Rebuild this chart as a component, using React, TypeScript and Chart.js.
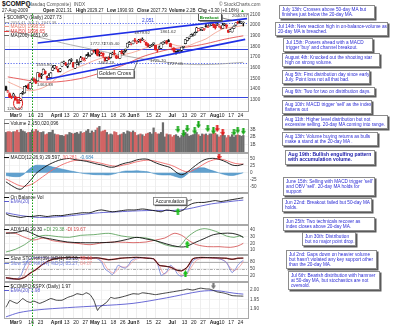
import React, { useEffect, useRef } from "react";
import { Chart, registerables } from "chart.js";

Chart.register(...registerables);

const FONT = '"Liberation Sans", Arial, Helvetica, sans-serif';
Chart.defaults.font.family = FONT;

// ---------------- trading days ----------------
const monthDays: [string, number[]][] = [
  ["02", [26, 27]],
  ["03", [2, 3, 4, 5, 6, 9, 10, 11, 12, 13, 16, 17, 18, 19, 20, 23, 24, 25, 26, 27, 30, 31]],
  ["04", [1, 2, 3, 6, 7, 8, 9, 13, 14, 15, 16, 17, 20, 21, 22, 23, 24, 27, 28, 29, 30]],
  ["05", [1, 4, 5, 6, 7, 8, 11, 12, 13, 14, 15, 18, 19, 20, 21, 22, 26, 27, 28, 29]],
  ["06", [1, 2, 3, 4, 5, 8, 9, 10, 11, 12, 15, 16, 17, 18, 19, 22, 23, 24, 25, 26, 29, 30]],
  ["07", [1, 2, 6, 7, 8, 9, 10, 13, 14, 15, 16, 17, 20, 21, 22, 23, 24, 27, 28, 29, 30, 31]],
  ["08", [3, 4, 5, 6, 7, 10, 11, 12, 13, 14, 17, 18, 19, 20, 21, 24, 25, 26, 27]],
];
const dates: string[] = monthDays.flatMap(([m, ds]) => ds.map((d) => `2009-${m}-${String(d).padStart(2, "0")}`));
const slots: string[] = [...dates, "", " "];
const N = slots.length;

const xTickLabels: [string, string][] = [
  ["2009-03-02", "Mar"], ["2009-03-09", "9"], ["2009-03-16", "16"], ["2009-03-23", "23"],
  ["2009-04-01", "April"], ["2009-04-13", "13"], ["2009-04-20", "20"], ["2009-04-27", "27"],
  ["2009-05-01", "May"], ["2009-05-11", "11"], ["2009-05-18", "18"], ["2009-05-26", "26"],
  ["2009-06-01", "Jun"], ["2009-06-08", "8"], ["2009-06-15", "15"], ["2009-06-22", "22"],
  ["2009-07-01", "Jul"], ["2009-07-13", "13"], ["2009-07-20", "20"], ["2009-07-27", "27"],
  ["2009-08-03", "Aug"], ["2009-08-10", "10"], ["2009-08-17", "17"], ["2009-08-24", "24"],
];
const markerDate = "2009-03-18";

// ---------------- price (OHLC) ----------------
const opens = [1425, 1371,
  1358, 1330, 1336, 1332, 1300, 1280, 1296, 1362, 1366, 1428, 1440, 1404, 1456, 1494, 1488, 1479, 1543, 1524, 1540, 1569, 1520, 1510,
  1509, 1575, 1599, 1604, 1585, 1567, 1615, 1645, 1640, 1614, 1637, 1670, 1648, 1596, 1636, 1651, 1660, 1676, 1667, 1690, 1725,
  1719, 1731, 1759, 1768, 1771, 1733, 1718, 1738, 1700, 1670, 1684, 1695, 1728, 1738, 1711, 1699, 1690, 1753, 1740, 1761,
  1794, 1820, 1823, 1825, 1862, 1837, 1849, 1869, 1858, 1852, 1838, 1821, 1795, 1808, 1825, 1810, 1768, 1779, 1783, 1822, 1843, 1847,
  1851, 1826, 1787, 1784, 1749, 1756, 1743, 1763, 1792, 1826, 1854, 1875, 1896, 1916, 1907, 1934, 1947, 1965, 1955, 1957, 1990, 1978,
  1992, 2001, 2010, 2002, 1997, 1992, 1981, 1968, 2004, 2002, 1950, 1938, 1935, 1968, 1999, 2024, 2027, 2021, 2021];
const highs = [1428, 1390,
  1365, 1337, 1363, 1336, 1309, 1306, 1359, 1381, 1427, 1436, 1450, 1463, 1500, 1506, 1495, 1556, 1552, 1547, 1589, 1572, 1522, 1546,
  1556, 1619, 1622, 1612, 1590, 1596, 1653, 1663, 1650, 1628, 1678, 1686, 1650, 1646, 1676, 1656, 1707, 1697, 1693, 1724, 1742,
  1727, 1764, 1765, 1768, 1775, 1751, 1745, 1739, 1701, 1697, 1703, 1733, 1747, 1763, 1717, 1709, 1754, 1765, 1757, 1775,
  1831, 1846, 1831, 1851, 1876, 1849, 1866, 1870, 1880, 1860, 1841, 1829, 1812, 1819, 1832, 1812, 1772, 1804, 1834, 1843, 1852, 1856,
  1865, 1830, 1791, 1786, 1754, 1760, 1762, 1793, 1801, 1863, 1886, 1888, 1912, 1919, 1933, 1979, 1967, 1972, 1977, 1969, 2006, 1995,
  2009, 2011, 2012, 2002, 2015, 2003, 1987, 2016, 2016, 2003, 1955, 1961, 1974, 1993, 2021, 2035, 2041, 2031, 2029];
const lows = [1388, 1370,
  1321, 1312, 1334, 1297, 1268, 1266, 1293, 1352, 1363, 1413, 1400, 1400, 1450, 1478, 1451, 1476, 1513, 1499, 1539, 1540, 1487, 1507,
  1500, 1573, 1591, 1587, 1560, 1561, 1612, 1638, 1620, 1600, 1635, 1656, 1604, 1592, 1630, 1625, 1655, 1672, 1663, 1688, 1707,
  1707, 1725, 1744, 1730, 1711, 1708, 1711, 1696, 1662, 1668, 1677, 1690, 1725, 1720, 1685, 1687, 1688, 1731, 1725, 1747,
  1792, 1819, 1814, 1824, 1841, 1826, 1839, 1834, 1855, 1843, 1808, 1795, 1788, 1801, 1811, 1765, 1747, 1775, 1778, 1821, 1831, 1822,
  1843, 1796, 1765, 1745, 1727, 1744, 1740, 1750, 1784, 1824, 1852, 1871, 1893, 1895, 1905, 1928, 1944, 1950, 1948, 1950, 1980, 1976,
  1990, 1995, 1976, 1962, 1993, 1981, 1963, 1967, 1994, 1969, 1930, 1937, 1934, 1966, 1997, 2011, 2016, 2013, 1991];
const closes = [1391, 1378,
  1323, 1321, 1354, 1300, 1294, 1269, 1358, 1372, 1426, 1432, 1404, 1462, 1491, 1483, 1457, 1556, 1517, 1529, 1587, 1545, 1502, 1529,
  1552, 1603, 1622, 1607, 1562, 1591, 1653, 1653, 1626, 1627, 1670, 1673, 1608, 1644, 1646, 1652, 1694, 1680, 1674, 1712, 1717,
  1719, 1764, 1754, 1759, 1716, 1739, 1731, 1716, 1664, 1689, 1680, 1732, 1735, 1728, 1695, 1692, 1750, 1731, 1752, 1774,
  1829, 1837, 1826, 1850, 1849, 1842, 1860, 1853, 1862, 1859, 1816, 1796, 1808, 1808, 1827, 1766, 1765, 1792, 1830, 1838, 1844, 1835,
  1846, 1797, 1787, 1746, 1747, 1753, 1756, 1793, 1800, 1863, 1885, 1887, 1909, 1916, 1926, 1974, 1966, 1968, 1976, 1968, 1984, 1979,
  2009, 2011, 1993, 1973, 2000, 1992, 1970, 1999, 2008, 1986, 1931, 1956, 1969, 1989, 2021, 2018, 2024, 2024, 2028];

// volume, billions of shares
const volumesB = [2.6, 2.7,
  2.7, 2.6, 2.7, 2.7, 2.9, 2.6, 3.0, 2.8, 2.7, 2.5, 2.6, 2.6, 2.9, 2.7, 3.0, 2.8, 2.6, 2.6, 2.7, 2.3, 2.4, 2.6,
  2.6, 2.9, 2.4, 2.3, 2.3, 2.2, 2.2, 2.1, 2.3, 2.3, 2.6, 2.5, 2.4, 2.5, 2.6, 2.4, 2.7, 2.5, 2.6, 2.8, 3.0,
  2.5, 2.8, 2.6, 2.9, 3.2, 3.4, 2.7, 2.8, 2.9, 2.6, 2.3, 2.4, 2.3, 2.7, 2.6, 2.2, 2.3, 2.4, 2.6, 2.4,
  2.8, 2.7, 2.6, 2.8, 2.6, 2.2, 2.3, 2.4, 2.3, 2.1, 2.4, 2.5, 2.6, 2.4, 3.2, 2.6, 2.4, 2.4, 2.6, 3.9, 2.0, 2.4,
  2.3, 2.3, 2.0, 2.2, 2.3, 2.1, 1.9, 2.2, 2.1, 2.6, 2.4, 2.1, 2.2, 2.3, 2.4, 2.6, 2.3, 2.1, 2.4, 2.3, 2.4, 2.2,
  2.4, 2.4, 2.7, 2.5, 2.3, 2.0, 2.2, 2.3, 2.2, 1.9, 2.2, 2.0, 2.3, 2.0, 2.2, 2.3, 2.2, 2.1, 2.2];

// moving averages: [slot, value]
const ma20Pts: [number, number][] = [[1, 1470], [7, 1422], [12, 1386], [17, 1397], [22, 1433], [27, 1502], [32, 1556], [37, 1595], [42, 1628], [47, 1666], [52, 1695], [57, 1709], [62, 1721], [67, 1739], [72, 1768], [77, 1800], [82, 1819], [87, 1827], [92, 1806], [97, 1804], [102, 1837], [107, 1870], [112, 1927], [117, 1970], [122, 1981], [127, 1996]];
const ma50Pts: [number, number][] = [[1, 1515], [7, 1497], [12, 1482], [17, 1470], [22, 1466], [27, 1468], [32, 1477], [37, 1490], [42, 1508], [47, 1532], [52, 1560], [57, 1590], [62, 1620], [67, 1657], [72, 1697], [77, 1726], [82, 1750], [87, 1771], [92, 1784], [97, 1795], [102, 1808], [107, 1825], [112, 1846], [117, 1867], [122, 1884], [127, 1899]];
const ma200Pts: [number, number][] = [[0, 1950], [12, 1908], [22, 1868], [32, 1825], [42, 1788], [52, 1752], [62, 1718], [72, 1686], [82, 1660], [92, 1640], [102, 1630], [112, 1633], [122, 1645], [127, 1651]];
const channelUpper: [number, number][] = [[17, 1832], [129, 2060]];
const channelLower: [number, number][] = [[22, 1493], [128, 1866]];
const priceLevels = [2017, 1776, 1645, 1324];
const priceLevelDotted = [true, false, true, false];
const priceLabels: [number, number, string][] = [
  [4.8, 1220, "1265.52"], [20.9, 1444, "1464.38"], [20.4, 1631, "1555.80"], [49.2, 1827, "1772.72"],
  [56.5, 1827, "1745.40"], [53.6, 1648, "1664.19"], [72.8, 1935, "1879.92"], [86.7, 1944, "1861.62"],
  [81.3, 1673, "1725.70"], [90.5, 1640, "1727.05"], [125.2, 2093, "2040.57"],
];

// MACD(12,26,9)
const macdPts: [number, number][] = [[0, -32], [3, -45], [6, -56], [8, -58], [10, -48], [12, -35], [14, -20], [16, -3], [19, 12], [22, 25], [25, 35], [28, 43], [31, 48], [34, 50], [37, 46], [40, 43], [43, 40], [46, 35], [49, 30], [52, 26], [55, 20], [58, 20], [61, 28], [64, 34], [67, 38], [70, 45], [73, 48], [76, 47], [79, 38], [82, 30], [85, 24], [88, 18], [91, 2], [94, -7], [97, 2], [100, 18], [103, 33], [106, 45], [109, 50], [112, 50], [115, 45], [118, 37], [121, 27], [124, 25], [127, 30]];
const signalPts: [number, number][] = [[0, -22], [3, -32], [6, -42], [9, -48], [12, -45], [15, -36], [18, -22], [21, -8], [24, 6], [27, 18], [30, 28], [33, 36], [36, 42], [39, 44], [42, 44], [45, 41], [48, 37], [51, 33], [54, 28], [57, 24], [60, 23], [63, 27], [66, 31], [69, 37], [72, 41], [75, 44], [78, 43], [81, 39], [84, 34], [87, 29], [90, 22], [93, 12], [96, 4], [99, 5], [102, 15], [105, 27], [108, 38], [111, 45], [114, 48], [117, 45], [120, 38], [123, 32], [127, 30]];
const histPts: [number, number][] = [[0, -10], [3, -13], [6, -14], [8, -12], [10, -3], [12, 10], [14, 20], [16, 26], [19, 26], [22, 25], [25, 20], [28, 16], [31, 11], [34, 7], [37, 3], [40, -1], [43, -4], [46, -6], [49, -7], [52, -7], [55, -8], [58, -4], [61, 2], [64, 6], [67, 6], [70, 7], [73, 5], [76, 3], [79, -3], [82, -7], [85, -8], [88, -8], [91, -14], [94, -18], [97, -5], [100, 12], [103, 17], [106, 17], [109, 10], [112, 4], [115, -3], [118, -8], [121, -10], [124, -6], [127, 0]];

// On balance volume (billions, relative) and its EMA(20)
const obvPts: [number, number][] = [[0, -1], [2, -3], [5, -4], [8, -5], [11, -4], [14, -4], [18, -3], [22, -4], [26, -3], [30, -3], [33, -2], [37, -1], [41, 0], [45, 0], [48, 2], [51, 3], [54, 2], [57, 1], [61, 2], [65, 3], [69, 3], [73, 4], [77, 3], [80, 2], [83, 1], [86, 3], [89, 2], [92, 1], [95, 3], [97, 7], [100, 10], [103, 11], [106, 11], [109, 12], [112, 13], [115, 12], [118, 13], [121, 14], [124, 15], [127, 16]];
const obvEmaPts: [number, number][] = [[0, 0], [8, -3], [18, -5], [30, -4], [40, -2], [50, 0], [60, 1], [70, 2], [80, 2.5], [90, 2.5], [97, 4], [104, 7], [110, 9.5], [116, 11], [122, 12.5], [127, 13.5]];

// ADX(14)
const adxPts: [number, number][] = [[0, 35], [5, 36], [10, 39], [14, 35], [18, 30], [25, 26], [33, 22], [40, 21], [50, 21], [58, 22], [65, 26], [70, 29], [76, 26], [80, 24], [86, 19], [92, 15], [96, 15], [101, 21], [106, 27], [111, 33], [116, 35], [121, 35], [125, 32], [127, 29]];
const plusDiPts: [number, number][] = [[0, 7], [5, 11], [10, 18], [12, 22], [16, 29], [21, 32], [28, 30], [34, 29], [40, 32], [47, 33], [55, 35], [62, 31], [68, 29], [75, 28], [80, 24], [85, 18], [90, 15], [93, 16], [97, 29], [102, 39], [106, 42], [110, 40], [114, 36], [118, 31], [122, 29], [125, 31], [127, 29]];
const minusDiPts: [number, number][] = [[0, 36], [5, 35], [10, 29], [15, 25], [20, 28], [25, 24], [30, 22], [38, 20], [45, 18], [52, 21], [60, 22], [68, 21], [75, 22], [80, 25], [85, 28], [90, 35], [94, 32], [98, 24], [102, 18], [108, 15], [114, 15], [120, 14], [124, 16], [127, 20]];

// Slow stochastics
const sto39Pts: [number, number][] = [[0, 10], [4, 6], [7, 4], [10, 12], [13, 30], [16, 45], [19, 64], [22, 80], [26, 92], [30, 96], [35, 98], [40, 97], [45, 95], [49, 96], [52, 92], [55, 88], [58, 90], [61, 94], [64, 96], [67, 97], [70, 98], [73, 97], [76, 94], [79, 92], [82, 64], [85, 60], [88, 56], [91, 44], [94, 40], [97, 56], [100, 92], [103, 97], [108, 97], [113, 96], [118, 94], [121, 90], [124, 94], [127, 95]];
const sto14KPts: [number, number][] = [[0, 8], [3, 4], [6, 4], [8, 20], [10, 60], [12, 88], [14, 95], [18, 97], [24, 95], [30, 97], [36, 94], [42, 96], [48, 95], [51, 80], [53, 48], [55, 36], [57, 24], [59, 50], [60, 64], [62, 56], [64, 52], [66, 70], [67, 84], [70, 96], [76, 95], [79, 90], [81, 72], [83, 20], [84, 24], [86, 36], [88, 64], [90, 50], [92, 24], [94, 16], [96, 28], [97, 32], [99, 70], [100, 84], [103, 96], [108, 97], [112, 94], [115, 90], [118, 76], [120, 45], [121, 32], [123, 50], [124, 64], [126, 80], [127, 85]];
const sto14DPts: [number, number][] = [[0, 12], [3, 6], [6, 4], [9, 14], [11, 45], [13, 78], [15, 92], [19, 96], [25, 95], [31, 96], [37, 95], [43, 95], [49, 94], [52, 78], [54, 52], [56, 36], [58, 30], [60, 48], [61, 58], [63, 56], [65, 58], [67, 72], [69, 88], [72, 95], [78, 94], [80, 86], [82, 64], [84, 30], [85, 26], [87, 40], [89, 56], [91, 48], [93, 28], [95, 20], [97, 26], [98, 40], [100, 66], [102, 86], [105, 95], [110, 96], [114, 92], [117, 84], [119, 64], [121, 45], [122, 40], [124, 50], [126, 68], [127, 82]];

// $COMPQ:$SPX ratio and EMA(20)
const ratioPts: [number, number][] = [[0, 1.907], [1, 1.925], [2, 1.944], [4, 1.935], [6, 1.928], [8, 1.945], [9, 1.954], [11, 1.94], [13, 1.933], [15, 1.94], [18, 1.928], [21, 1.94], [24, 1.954], [27, 1.945], [30, 1.945], [33, 1.96], [36, 1.97], [38, 1.98], [41, 1.975], [43, 1.985], [45, 1.975], [47, 1.945], [49, 1.89], [50, 1.905], [52, 1.92], [54, 1.935], [56, 1.96], [58, 1.955], [61, 1.96], [64, 1.968], [68, 1.98], [71, 1.978], [73, 1.985], [77, 1.98], [80, 1.975], [83, 1.98], [86, 1.985], [89, 1.99], [92, 1.995], [95, 2.0], [97, 2.005], [100, 2.0], [104, 2.01], [107, 2.006], [109, 2.005], [111, 1.998], [113, 1.99], [116, 1.985], [118, 1.98], [121, 1.97], [124, 1.968], [127, 1.967]];
const ratioEmaPts: [number, number][] = [[0, 1.855], [7, 1.878], [17, 1.893], [33, 1.905], [50, 1.915], [68, 1.928], [86, 1.958], [104, 1.993], [113, 1.996], [122, 1.983], [127, 1.978]];

// signal arrows [slot, value]
const volArrowsGreen: [number, number][] = [[92, 3.0], [95, 2.45], [97, 3.1], [101, 2.8], [103, 3.6], [108, 3.1], [111, 2.8], [122, 2.6], [124, 2.9], [127, 2.75]];
const volArrowsRed: [number, number][] = [[113, 3.1], [116, 2.6]];
const macdArrowRed: [number, number][] = [[114, 57]];
const obvArrowGreen: [number, number][] = [[92, 1.5]];
const adxArrowGreen: [number, number][] = [[97, 19]];
const stoArrowGreen: [number, number][] = [[96, 28]];
const ratioArrowGray: [number, number][] = [[111, 2.023]];

// y-axis tick values
const priceTicks = [1300, 1400, 1500, 1600, 1700, 1800, 1900, 2000, 2100];
const volumeTicks = [1, 2, 3];
const macdTicks = [-50, -25, 0, 25, 50];
const adxTicks = [10, 20, 30, 40];
const stoTicks = [20, 50, 80];
const ratioTicks = [1.9, 1.95, 2.0];

// right-hand commentary
const notes = [
  { x: 279, y: 5, w: 96, text: "July 13th: Crosses above 50-day MA but\nfinishes just below the 20-day MA." },
  { x: 275, y: 22, w: 113, text: "Jul 14th: New reaction high in on-balance-volume as\n20-day MA is breached." },
  { x: 283, y: 38, w: 90, text: "Jul 15th: Powers ahead with a MACD\ntrigger 'buy' and channel breakout." },
  { x: 282, y: 53, w: 98, text: "August 4th: Knocked out the shooting star\nhigh on strong volume." },
  { x: 282, y: 70, w: 88, text: "Aug 5th: First distribution day since early\nJuly. Point loss not all that bad." },
  { x: 282, y: 87, w: 93, text: "Aug 6th: Two for two on distribution days." },
  { x: 282, y: 100, w: 90, text: "Aug 10th: MACD trigger 'sell' as the index\nflattens out" },
  { x: 282, y: 115, w: 106, text: "Aug 11th: Higher level distribution but not\nexcessive selling. 20-day MA coming into range." },
  { x: 282, y: 132, w: 96, text: "Aug 13th: Volume buying returns as bulls\nmake a stand at the 20-day MA ." },
  { x: 285, y: 150, w: 90, text: "Aug 19th: Bullish engulfing pattern\nwith accumulation volume.", bold: true },
  { x: 283, y: 177, w: 92, text: "June 15th: Selling with MACD trigger 'sell'\nand OBV 'sell'. 20-day MA holds for\nsupport" },
  { x: 282, y: 198, w: 90, text: "Jun 22nd: Breakout failed but 50-day MA\nholds." },
  { x: 283, y: 217, w: 92, text: "Jun 25th: Two technicals recover as\nindex closes above 20-day MA." },
  { x: 302, y: 232, w: 54, text: "Jun 30th: Distribution\nbut no major point drop." },
  { x: 286, y: 250, w: 91, text: "Jul 2nd: Gaps down on heavier volume\nbut hasn't violated any key support other\nthan the 20-day MA." },
  { x: 288, y: 271, w: 92, text: "Jul 6th: Bearish distribution with hammer\nat 50-day MA, but stochastics are not\noversold." },
];

// ---------------- helpers ----------------
const PAD = 4;
const tickMap = new Map(xTickLabels);
const tickText = slots.map((d) => tickMap.get(d) || "");
const markerSlot = slots.indexOf(markerDate);

function sparse(pts: [number, number][]) {
  const a: (number | null)[] = new Array(N).fill(null);
  for (const [i, v] of pts) a[i] = v;
  return a;
}

function lineDs(pts: [number, number][], color: string, width = 0.8, order = 1, tension = 0.3) {
  return { type: "line", data: sparse(pts), borderColor: color, borderWidth: width, pointRadius: 0, spanGaps: true, tension, fill: false, order };
}

function arrowDs(pts: [number, number][], img: HTMLCanvasElement) {
  return { type: "line", data: sparse(pts), showLine: false, pointStyle: img, pointRadius: 3, order: 0 };
}

function arrowImage(color: string, up: boolean) {
  const c = document.createElement("canvas");
  c.width = 5;
  c.height = 7;
  const g = c.getContext("2d")!;
  g.fillStyle = color;
  g.beginPath();
  const shape = [[1.4, 0], [3.6, 0], [3.6, 3.2], [5, 3.2], [2.5, 7], [0, 3.2], [1.4, 3.2]];
  shape.forEach(([x, y], k) => {
    const yy = up ? 7 - y : y;
    if (k === 0) g.moveTo(x, yy);
    else g.lineTo(x, yy);
  });
  g.closePath();
  g.fill();
  return c;
}

type TextItem = { i: number; v: number; text: string; color?: string; bold?: boolean; size?: number; box?: boolean; boxColor?: string };
type Overlay = {
  hlines?: { v: number; color: string; dash?: number[]; w?: number }[];
  texts?: TextItem[];
  segs?: { i1: number; v1: number; i2: number; v2: number; color: string; w?: number }[];
  ellipses?: { i: number; v: number; rx: number; ry: number; color: string }[];
};

function makeOverlay(cfg: Overlay, xLab: boolean) {
  return {
    id: "overlay",
    beforeDatasetsDraw(chart: any) {
      const { ctx, chartArea: a, scales } = chart;
      ctx.save();
      for (const h of cfg.hlines || []) {
        const py = Math.round(scales.y.getPixelForValue(h.v)) + 0.5;
        ctx.strokeStyle = h.color;
        ctx.lineWidth = h.w ?? 1;
        ctx.setLineDash(h.dash || []);
        ctx.beginPath();
        ctx.moveTo(a.left, py);
        ctx.lineTo(a.right, py);
        ctx.stroke();
      }
      ctx.restore();
    },
    afterDatasetsDraw(chart: any) {
      const { ctx, scales } = chart;
      const xs = scales.x;
      const ys = scales.y;
      ctx.save();
      for (const s of cfg.segs || []) {
        ctx.strokeStyle = s.color;
        ctx.lineWidth = s.w ?? 0.7;
        ctx.beginPath();
        ctx.moveTo(xs.getPixelForValue(s.i1), ys.getPixelForValue(s.v1));
        ctx.lineTo(xs.getPixelForValue(s.i2), ys.getPixelForValue(s.v2));
        ctx.stroke();
      }
      for (const e of cfg.ellipses || []) {
        ctx.strokeStyle = e.color;
        ctx.lineWidth = 1;
        ctx.beginPath();
        ctx.ellipse(xs.getPixelForValue(e.i), ys.getPixelForValue(e.v), e.rx, e.ry, 0, 0, Math.PI * 2);
        ctx.stroke();
      }
      for (const t of cfg.texts || []) {
        const size = t.size ?? 4.6;
        ctx.font = `${t.bold ? "bold " : ""}${size}px ${FONT}`;
        const w = ctx.measureText(t.text).width;
        const px = xs.getPixelForValue(t.i);
        const py = ys.getPixelForValue(t.v);
        if (t.box) {
          const bw = w + 4;
          const bh = size + 2.6;
          const bx = Math.round(px - bw / 2) + 0.5;
          const by = Math.round(py - bh / 2) + 0.5;
          ctx.fillStyle = "#555";
          ctx.fillRect(bx + 1.2, by + 1.2, bw, bh);
          ctx.fillStyle = "#fff";
          ctx.fillRect(bx, by, bw, bh);
          ctx.strokeStyle = t.boxColor || "#777";
          ctx.lineWidth = 0.8;
          ctx.strokeRect(bx, by, bw, bh);
        }
        ctx.fillStyle = t.color || "#333";
        ctx.textAlign = "center";
        ctx.textBaseline = "middle";
        ctx.fillText(t.text, px, py + 0.4);
      }
      ctx.restore();
    },
    afterDraw(chart: any) {
      const { ctx, chartArea: a, scales } = chart;
      ctx.save();
      ctx.strokeStyle = "#a8a8a8";
      ctx.lineWidth = 1;
      ctx.strokeRect(Math.round(a.left) - 0.5, Math.round(a.top) - 0.5, Math.round(a.right - a.left) + 1, Math.round(a.bottom - a.top) + 1);
      const vx = Math.round(scales.x.getPixelForValue(markerSlot)) + 0.5;
      ctx.strokeStyle = "#13a013";
      ctx.setLineDash([1.5, 1.5]);
      ctx.beginPath();
      ctx.moveTo(vx, a.top - 0.5);
      ctx.lineTo(vx, a.bottom + (xLab ? 8 : 0.5));
      ctx.stroke();
      ctx.restore();
    },
  };
}

type PanelSpec = {
  top: number; h: number; xLab: boolean; min: number; max: number;
  ticks: number[]; fmt: (v: number) => string; datasets: any[]; overlay: Overlay;
};

const CANVAS_W = 272;
const PLOT_RIGHT = 248;
const Y_AXIS_W = 16;

function buildConfig(p: PanelSpec) {
  return {
    type: "bar",
    data: { labels: slots, datasets: p.datasets },
    options: {
      animation: false,
      responsive: false,
      maintainAspectRatio: false,
      events: [],
      layout: { padding: { left: 5, right: CANVAS_W - PLOT_RIGHT - Y_AXIS_W, top: PAD, bottom: PAD } },
      plugins: { legend: { display: false }, tooltip: { enabled: false } },
      scales: {
        x: {
          type: "category",
          offset: true,
          grid: {
            offset: false,
            drawTicks: false,
            lineWidth: 0.6,
            color: (c: any) => (tickText[c.index] ? "#e2e2e2" : "rgba(0,0,0,0)"),
          },
          border: { display: false },
          ticks: {
            display: p.xLab,
            autoSkip: false,
            maxRotation: 0,
            minRotation: 0,
            align: "start",
            padding: 1.5,
            color: "#222",
            font: (c: any) => ({ family: FONT, size: 5, weight: /^\d+$/.test(tickText[c.index] || "0") ? "normal" : "bold" }),
            callback: (_v: any, i: number) => tickText[i],
          },
          afterFit: (s: any) => {
            s.height = p.xLab ? 8 : 0;
            s.paddingLeft = 0;
            s.paddingRight = 0;
          },
        },
        y: {
          position: "right",
          min: p.min,
          max: p.max,
          grid: { drawTicks: false, lineWidth: 0.6, color: "#ececec" },
          border: { display: false },
          ticks: {
            display: p.ticks.length > 0,
            crossAlign: "near",
            padding: 2,
            color: "#444",
            font: { family: FONT, size: 4.6 },
            callback: (v: any) => p.fmt(Number(v)),
          },
          afterBuildTicks: (s: any) => {
            s.ticks = p.ticks.map((v) => ({ value: v }));
          },
          afterFit: (s: any) => {
            s.width = Y_AXIS_W;
            s.paddingTop = 0;
            s.paddingBottom = 0;
          },
        },
      },
    },
    plugins: [makeOverlay(p.overlay, p.xLab)],
  };
}

const panelGeom = [
  { top: 14, h: 97, xLab: true },
  { top: 119, h: 34, xLab: false },
  { top: 153, h: 40, xLab: false },
  { top: 193, h: 32, xLab: false },
  { top: 225, h: 30, xLab: false },
  { top: 255, h: 27, xLab: false },
  { top: 282, h: 36, xLab: true },
];

const legendLine = (color: string) => (
  <span style={{ display: "inline-block", width: 5, height: 0, borderTop: `1px solid ${color}`, verticalAlign: "middle", marginRight: 1.5 }} />
);

export default function App() {
  const refs = useRef<(HTMLCanvasElement | null)[]>([]);

  useEffect(() => {
    const green = arrowImage("#18a818", false);
    const greenUp = arrowImage("#18c018", true);
    const red = arrowImage("#e01818", false);
    const gray = arrowImage("#7a7a7a", false);

    const candleColor = closes.map((c, i) => (i > 0 && c < closes[i - 1] ? "#e02424" : "#111111"));
    const hollow = closes.map((c, i) => c >= opens[i]);
    const bodyData = slots.map((_, i) => (i < dates.length ? [opens[i], closes[i]] : null));
    const wickData = slots.map((_, i) => (i < dates.length ? [lows[i], highs[i]] : null));
    const volData = slots.map((_, i) => (i < dates.length ? volumesB[i] : null));

    const specs: PanelSpec[] = [
      {
        ...panelGeom[0], min: 1196, max: 2103, ticks: priceTicks, fmt: (v) => String(v),
        datasets: [
          lineDs(channelUpper, "#1f2fe6", 1.7, 0, 0),
          lineDs(channelLower, "#1f2fe6", 1.7, 0, 0),
          {
            type: "bar", data: bodyData, grouped: false, barThickness: 2.4, minBarLength: 0.8,
            backgroundColor: (c: any) => (hollow[c.dataIndex] ? "#ffffff" : candleColor[c.dataIndex]),
            borderColor: (c: any) => candleColor[c.dataIndex], borderWidth: 0.6, borderSkipped: false, order: 2,
          },
          {
            type: "bar", data: wickData, grouped: false, barThickness: 0.8,
            backgroundColor: (c: any) => candleColor[c.dataIndex], order: 3,
          },
          lineDs(ma20Pts, "#f29a88", 0.8, 4),
          lineDs(ma50Pts, "#e23b3b", 0.8, 5),
          lineDs(ma200Pts, "#9a9a9a", 0.8, 6),
        ],
        overlay: {
          hlines: priceLevels.map((v, k) => ({ v, color: priceLevelDotted[k] ? "#5b6cf0" : "#3545e0", dash: priceLevelDotted[k] ? [1.2, 1.6] : [], w: 1 })),
          segs: [
            { i1: 68, v1: 1551, i2: 70.6, v2: 1675, color: "#444" },
            { i1: 113.7, v1: 2075, i2: 121, v2: 2042, color: "#444" },
          ],
          ellipses: [{ i: 6.5, v: 1268, rx: 4.5, ry: 6, color: "#e01010" }],
          texts: [
            ...priceLabels.map(([i, v, text]) => ({ i, v, text, color: "#444", size: 4.4 })),
            { i: 76, v: 2042, text: "2,051", color: "#3040e0", size: 4.8 },
            { i: 58.3, v: 1551, text: "Golden Cross", color: "#222", size: 5.3, box: true },
            { i: 108.8, v: 2075, text: "Breakout", color: "#138a13", bold: true, size: 4.4, box: true, boxColor: "#333" },
          ],
        },
      },
      {
        ...panelGeom[1], min: 0, max: 4.25, ticks: volumeTicks, fmt: (v) => `${v}B`,
        datasets: [
          arrowDs(volArrowsGreen, green),
          arrowDs(volArrowsRed, red),
          {
            type: "bar", data: volData, grouped: false, barThickness: 1.6, order: 2,
            backgroundColor: (c: any) => (candleColor[c.dataIndex] === "#e02424" ? "#d26464" : "#6c6c6c"),
          },
        ],
        overlay: {},
      },
      {
        ...panelGeom[2], min: -67.7, max: 65.7, ticks: macdTicks, fmt: (v) => String(v),
        datasets: [
          arrowDs(macdArrowRed, red),
          lineDs(macdPts, "#111", 0.9, 1),
          lineDs(signalPts, "#f06a6a", 0.9, 2),
          { ...lineDs(histPts, "#3b89c2", 0.5, 3), fill: "origin", backgroundColor: "rgba(59,137,194,0.8)" },
        ],
        overlay: {},
      },
      {
        ...panelGeom[3], min: -12, max: 20, ticks: [], fmt: (v) => String(v),
        datasets: [
          arrowDs(obvArrowGreen, greenUp),
          lineDs(obvPts, "#111", 0.9, 1, 0.25),
          lineDs(obvEmaPts, "#5a5ad0", 0.9, 2),
        ],
        overlay: {
          segs: [{ i1: 97, v1: 12.5, i2: 99.5, v2: 14, color: "#444" }],
          texts: [{ i: 87.7, v: 12.5, text: "Accumulation", color: "#222", size: 4.8, box: true }],
        },
      },
      {
        ...panelGeom[4], min: 4, max: 46, ticks: adxTicks, fmt: (v) => String(v),
        datasets: [
          arrowDs(adxArrowGreen, greenUp),
          lineDs(adxPts, "#111", 0.9, 1),
          lineDs(plusDiPts, "#4f9a4f", 0.8, 2),
          lineDs(minusDiPts, "#d04848", 0.8, 3),
        ],
        overlay: {},
      },
      {
        ...panelGeom[5], min: -4, max: 104, ticks: stoTicks, fmt: (v) => String(v),
        datasets: [
          arrowDs(stoArrowGreen, greenUp),
          lineDs(sto39Pts, "#111", 0.9, 1, 0.2),
          lineDs(sto39Pts, "#f05a5a", 1.4, 2, 0.2),
          lineDs(sto14KPts, "#6a7ad8", 0.8, 3, 0.2),
          lineDs(sto14DPts, "#f39a9a", 0.8, 4, 0.2),
        ],
        overlay: {
          hlines: [
            { v: 80, color: "#9a9a9a", w: 0.8 },
            { v: 50, color: "#9a9a9a", w: 0.8, dash: [3, 1.2, 1, 1.2] },
            { v: 20, color: "#9a9a9a", w: 0.8 },
          ],
        },
      },
      {
        ...panelGeom[6], min: 1.849, max: 2.038, ticks: ratioTicks, fmt: (v) => v.toFixed(2),
        datasets: [
          arrowDs(ratioArrowGray, gray),
          lineDs(ratioPts, "#111", 0.8, 1, 0.15),
          lineDs(ratioEmaPts, "#5a5ad0", 0.9, 2),
        ],
        overlay: {},
      },
    ];

    const charts = specs.map((p, k) => new Chart(refs.current[k] as HTMLCanvasElement, buildConfig(p) as any));
    return () => charts.forEach((c) => c.destroy());
  }, []);

  const small: React.CSSProperties = { position: "absolute", fontSize: 4.8, lineHeight: "5px", whiteSpace: "pre", color: "#222" };
  const hdr: React.CSSProperties = { ...small, fontSize: 4.5, top: 8 };

  return (
    <div style={{ position: "fixed", left: 0, top: 0, width: 400, height: 326, background: "#fff", overflow: "hidden", fontFamily: FONT }}>
      {panelGeom.map((g, k) => {
        const h = g.h + 2 * PAD + (g.xLab ? 8 : 0);
        return (
          <canvas
            key={k}
            ref={(el) => { refs.current[k] = el; }}
            width={CANVAS_W}
            height={h}
            style={{ position: "absolute", left: 0, top: g.top - PAD, width: CANVAS_W, height: h }}
          />
        );
      })}

      {/* header */}
      <div style={{ ...small, left: 2, top: 0, fontSize: 6.6, lineHeight: "7px", fontWeight: "bold", color: "#111" }}>$COMPQ</div>
      <div style={{ ...small, left: 27, top: 1.5, color: "#555" }}>(Nasdaq Composite)  INDX</div>
      <div style={{ ...small, left: 219, top: 1.5, color: "#555" }}>© StockCharts.com</div>
      <div style={{ ...hdr, left: 2 }}>27-Aug-2009</div>
      <div style={{ ...hdr, left: 43 }}><b>Open</b> 2021.31</div>
      <div style={{ ...hdr, left: 76 }}><b>High</b> 2029.27</div>
      <div style={{ ...hdr, left: 107 }}><b>Low</b> 1990.93</div>
      <div style={{ ...hdr, left: 137 }}><b>Close</b> 2027.73</div>
      <div style={{ ...hdr, left: 169 }}><b>Volume</b> 2.2B</div>
      <div style={{ ...hdr, left: 198 }}><b>Chg</b> +3.30 (+0.16%) <span style={{ color: "#18a818" }}>▲</span></div>

      {/* price legend */}
      <div style={{ ...small, left: 4, top: 15 }}><b style={{ color: "#111" }}>▪</b> $COMPQ (Daily) 2027.73</div>
      <div style={{ ...small, left: 4, top: 19.5, color: "#888", fontSize: 4.2 }}>{legendLine("#aaa")}2051.41  1(2,1)  1947.38</div>
      <div style={{ ...small, left: 4, top: 24, color: "#e87a6a" }}>{legendLine("#f29a88")}MA(20) 1998.55</div>
      <div style={{ ...small, left: 4, top: 28.5, color: "#e23b3b" }}>{legendLine("#e23b3b")}MA(50) 1898.65</div>
      <div style={{ ...small, left: 4, top: 33 }}>{legendLine("#666")}MA(200) 1651.06</div>

      {/* lower panel legends */}
      <div style={{ ...small, left: 4, top: 120.5 }}>{legendLine("#666")}Volume 2,150,020,096</div>
      <div style={{ ...small, left: 4, top: 155 }}>{legendLine("#111")}MACD(12,26,9) 29.597, <span style={{ color: "#f06a6a" }}>30.281,</span> <span style={{ color: "#3b89c2" }}>-0.684</span></div>
      <div style={{ ...small, left: 4, top: 194.5 }}>{legendLine("#111")}On Balance Vol</div>
      <div style={{ ...small, left: 4, top: 199, color: "#5a5ad0" }}>{legendLine("#5a5ad0")}EMA(20)</div>
      <div style={{ ...small, left: 4, top: 226.5 }}>{legendLine("#111")}ADX(14) 29.30 <span style={{ color: "#4f9a4f" }}>+DI 29.38</span> <span style={{ color: "#d04848" }}>-DI 19.67</span></div>
      <div style={{ ...small, left: 4, top: 256 }}>{legendLine("#111")}Slow STO %K(39) %D(1) 95.16, <span style={{ color: "#f05a5a" }}>95.16</span></div>
      <div style={{ ...small, left: 4, top: 260.5, color: "#6a7ad8" }}>{legendLine("#6a7ad8")}Slow STO %K(14) %D(3) 85.27, <span style={{ color: "#f39a9a" }}>84.87</span></div>
      <div style={{ ...small, left: 4, top: 283.5 }}>{legendLine("#111")}$COMPQ:$SPX (Daily) 1.97</div>
      <div style={{ ...small, left: 4, top: 288, color: "#5a5ad0" }}>{legendLine("#5a5ad0")}EMA(20) 1.98</div>

      {/* commentary boxes */}
      {notes.map((n, k) => (
        <div
          key={k}
          style={{
            position: "absolute", left: n.x, top: n.y, width: n.w, boxSizing: "border-box",
            background: "#fff", border: "1px solid #8c8c8c", boxShadow: "1.5px 1.5px 0 #5a5a5a",
            padding: "0.6px 2px", fontSize: n.bold ? 5 : 4.7, lineHeight: n.bold ? "5.8px" : "5.4px",
            color: n.bold ? "#1a1aa8" : "#2b2bd4", fontWeight: n.bold ? "bold" : "normal", whiteSpace: "pre", overflow: "hidden",
          }}
        >
          {n.text}
        </div>
      ))}
    </div>
  );
}
